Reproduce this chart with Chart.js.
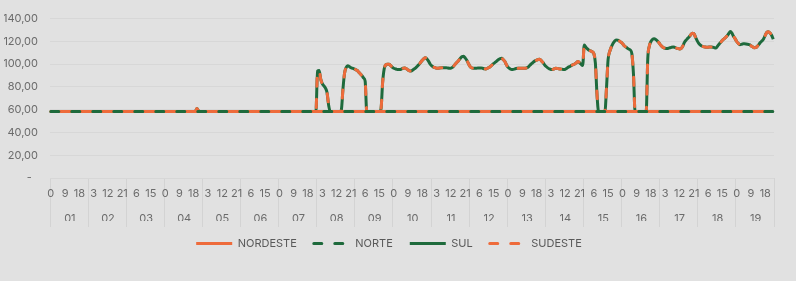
<!DOCTYPE html>
<html>
<head>
<meta charset="utf-8">
<script src="https://cdn.jsdelivr.net/npm/chart.js@4.4.1/dist/chart.umd.min.js"></script>
<style>
  html, body { margin: 0; padding: 0; background: #e1e1e1; }
  #wrap { width: 796px; height: 281px; }
</style>
</head>
<body>
<div id="wrap"><canvas id="chart" width="796" height="281"></canvas></div>
<script>
(function () {
  "use strict";

  // day groups and the hour of each point inside a day
  var days = ["01", "02", "03", "04", "05", "06", "07", "08", "09", "10",
              "11", "12", "13", "14", "15", "16", "17", "18", "19"];
  var hours = [0, 1, 2, 3, 4, 5, 6, 7, 8, 9, 10, 11, 12, 13, 14, 15, 16, 17, 18, 19, 20, 21, 22, 23];
  var yTicks = [0, 20, 40, 60, 80, 100, 120, 140];

  // hourly values, one line per day
  var norte = [
    58.3,58.3,58.3,58.3,58.3,58.3,58.3,58.3,58.3,58.3,58.3,58.3,58.3,58.3,58.3,58.3,58.3,58.3,58.3,58.3,58.3,58.3,58.3,58.3,
    58.3,58.3,58.3,58.3,58.3,58.3,58.3,58.3,58.3,58.3,58.3,58.3,58.3,58.3,58.3,58.3,58.3,58.3,58.3,58.3,58.3,58.3,58.3,58.3,
    58.3,58.3,58.3,58.3,58.3,58.3,58.3,58.3,58.3,58.3,58.3,58.3,58.3,58.3,58.3,58.3,58.3,58.3,58.3,58.3,58.3,58.3,58.3,58.3,
    58.3,58.3,58.3,58.3,58.3,58.3,58.3,58.3,58.3,58.3,58.3,58.3,58.3,58.3,58.3,58.3,58.3,58.3,58.3,58.3,58.3,58.3,58.3,58.3,
    58.3,58.3,58.3,58.3,58.3,58.3,58.3,58.3,58.3,58.3,58.3,58.3,58.3,58.3,58.3,58.3,58.3,58.3,58.3,58.3,58.3,58.3,58.3,58.3,
    58.3,58.3,58.3,58.3,58.3,58.3,58.3,58.3,58.3,58.3,58.3,58.3,58.3,58.3,58.3,58.3,58.3,58.3,58.3,58.3,58.3,58.3,58.3,58.3,
    58.3,58.3,58.3,58.3,58.3,58.3,58.3,58.3,58.3,58.3,58.3,58.3,58.3,58.3,58.3,58.3,58.3,58.3,58.3,58.3,58.3,58.3,58.3,58.3,
    58.3,58.3,58.3,58.3,58.3,58.3,58.3,58.3,58.3,58.3,58.3,58.3,58.3,58.3,58.3,58.3,58.3,58.3,58.3,58.3,58.3,58.3,58.3,58.3,
    58.3,58.3,58.3,58.3,58.3,58.3,58.3,58.3,58.3,58.3,58.3,58.3,58.3,58.3,58.3,58.3,58.3,58.3,58.3,58.3,58.3,58.3,58.3,58.3,
    58.3,58.3,58.3,58.3,58.3,58.3,58.3,58.3,58.3,58.3,58.3,58.3,58.3,58.3,58.3,58.3,58.3,58.3,58.3,58.3,58.3,58.3,58.3,58.3,
    58.3,58.3,58.3,58.3,58.3,58.3,58.3,58.3,58.3,58.3,58.3,58.3,58.3,58.3,58.3,58.3,58.3,58.3,58.3,58.3,58.3,58.3,58.3,58.3,
    58.3,58.3,58.3,58.3,58.3,58.3,58.3,58.3,58.3,58.3,58.3,58.3,58.3,58.3,58.3,58.3,58.3,58.3,58.3,58.3,58.3,58.3,58.3,58.3,
    58.3,58.3,58.3,58.3,58.3,58.3,58.3,58.3,58.3,58.3,58.3,58.3,58.3,58.3,58.3,58.3,58.3,58.3,58.3,58.3,58.3,58.3,58.3,58.3,
    58.3,58.3,58.3,58.3,58.3,58.3,58.3,58.3,58.3,58.3,58.3,58.3,58.3,58.3,58.3,58.3,58.3,58.3,58.3,58.3,58.3,58.3,58.3,58.3,
    58.3,58.3,58.3,58.3,58.3,58.3,58.3,58.3,58.3,58.3,58.3,58.3,58.3,58.3,58.3,58.3,58.3,58.3,58.3,58.3,58.3,58.3,58.3,58.3,
    58.3,58.3,58.3,58.3,58.3,58.3,58.3,58.3,58.3,58.3,58.3,58.3,58.3,58.3,58.3,58.3,58.3,58.3,58.3,58.3,58.3,58.3,58.3,58.3,
    58.3,58.3,58.3,58.3,58.3,58.3,58.3,58.3,58.3,58.3,58.3,58.3,58.3,58.3,58.3,58.3,58.3,58.3,58.3,58.3,58.3,58.3,58.3,58.3,
    58.3,58.3,58.3,58.3,58.3,58.3,58.3,58.3,58.3,58.3,58.3,58.3,58.3,58.3,58.3,58.3,58.3,58.3,58.3,58.3,58.3,58.3,58.3,58.3,
    58.3,58.3,58.3,58.3,58.3,58.3,58.3,58.3,58.3,58.3,58.3,58.3,58.3,58.3,58.3,58.3,58.3,58.3,58.3,58.3,58.3,58.3,58.3,58.3
  ];
  var nordeste = norte; // NE sat on the same floor price as N the whole period

  var sul = [
    58.3,58.3,58.3,58.3,58.3,58.3,58.3,58.3,58.3,58.3,58.3,58.3,58.3,58.3,58.3,58.3,58.3,58.3,58.3,58.3,58.3,58.3,58.3,58.3,
    58.3,58.3,58.3,58.3,58.3,58.3,58.3,58.3,58.3,58.3,58.3,58.3,58.3,58.3,58.3,58.3,58.3,58.3,58.3,58.3,58.3,58.3,58.3,58.3,
    58.3,58.3,58.3,58.3,58.3,58.3,58.3,58.3,58.3,58.3,58.3,58.3,58.3,58.3,58.3,58.3,58.3,58.3,58.3,58.3,58.3,58.3,58.3,58.3,
    58.3,58.3,58.3,58.3,58.3,58.3,58.3,58.3,58.3,58.3,58.3,58.3,58.3,58.3,58.3,58.3,58.3,58.3,58.3,58.3,61.1,59.0,58.3,58.3,
    58.3,58.3,58.3,58.3,58.3,58.3,58.3,58.3,58.3,58.3,58.3,58.3,58.3,58.3,58.3,58.3,58.3,58.3,58.3,58.3,58.3,58.3,58.3,58.3,
    58.3,58.3,58.3,58.3,58.3,58.3,58.3,58.3,58.3,58.3,58.3,58.3,58.3,58.3,58.3,58.3,58.3,58.3,58.3,58.3,58.3,58.3,58.3,58.3,
    58.3,58.3,58.3,58.3,58.3,58.3,58.3,58.3,58.3,58.3,58.3,58.3,58.3,58.3,58.3,58.3,58.3,58.3,58.3,58.3,58.3,58.3,58.3,58.3,
    93.9,94.4,86.9,82.9,80.9,78.9,74.9,63.9,58.3,58.3,58.3,58.3,58.3,58.3,58.3,59.9,77.9,91.9,96.9,98.6,97.9,96.9,96.4,95.9,
    95.2,94.4,92.9,91.4,89.9,87.9,84.9,58.3,58.3,58.3,58.3,58.3,58.3,58.3,58.3,58.3,60.9,83.9,95.9,99.4,99.9,99.9,98.9,97.4,
    96.4,95.9,95.4,95.2,95.2,95.9,96.4,96.7,95.9,94.9,94.1,93.9,94.9,95.9,96.9,98.4,99.9,101.7,103.4,104.9,105.7,104.4,102.4,99.9,
    98.4,97.4,96.9,96.4,96.4,96.6,96.9,96.9,96.9,96.9,96.6,96.4,96.4,97.2,98.7,100.4,101.9,103.5,105.2,106.7,106.9,105.4,103.5,100.7,
    98.1,96.9,96.4,96.4,96.4,96.6,96.7,96.7,96.4,95.9,95.8,96.4,97.1,98.1,99.4,100.6,101.7,102.9,104.1,104.9,105.1,103.9,102.3,99.4,
    97.2,96.2,95.4,95.2,95.7,96.2,96.4,96.4,96.4,96.4,96.4,96.4,96.9,97.9,99.4,100.6,101.9,102.9,103.5,104.1,104.3,102.9,101.4,99.4,
    97.9,96.7,95.9,95.4,95.4,95.9,96.4,96.2,95.9,95.8,95.6,95.2,95.4,96.4,97.4,97.9,98.9,99.6,100.1,101.2,102.3,101.4,99.9,98.9,
    116.9,114.9,113.4,112.2,111.6,110.9,109.4,100.9,73.9,58.3,58.3,58.3,58.3,58.3,78.9,103.9,110.9,114.9,117.9,119.9,121.3,121.1,120.4,119.4,
    118.2,116.4,115.2,114.2,113.2,112.4,108.9,90.9,58.3,58.3,58.3,58.3,58.3,58.3,58.3,58.3,104.9,115.9,119.9,121.7,122.2,121.7,120.4,118.9,
    116.9,115.4,114.4,113.9,113.7,113.9,114.4,114.9,115.1,114.7,114.1,113.7,113.4,113.7,115.7,118.9,120.9,122.4,123.9,125.7,127.2,126.9,123.9,120.9,
    118.4,116.9,115.9,115.4,115.1,114.9,114.9,115.1,115.1,114.9,114.4,114.2,115.9,117.7,119.2,120.9,122.2,123.4,124.9,126.9,128.6,127.2,124.4,122.4,
    119.9,118.2,117.1,117.4,117.9,117.9,117.7,117.4,117.1,116.2,115.2,114.4,114.5,115.7,117.4,119.2,120.6,122.4,125.4,127.9,128.4,127.4,125.4,121.9
  ];
  var sudeste = sul; // SE and S prices were identical

  var ORANGE = "#EE6B3B";
  var GREEN = "#1E6A3C";
  var TEXT = "#6b6b6b";

  var hourLabels = [];
  days.forEach(function () {
    hours.forEach(function (h) { hourLabels.push(String(h)); });
  });

  Chart.defaults.font.family = "Inter, 'Open Sans', sans-serif";
  Chart.defaults.font.size = 11;
  Chart.defaults.color = TEXT;

  function line(label, data, color, dashed) {
    return {
      label: label,
      data: data,
      borderColor: color,
      backgroundColor: color,
      borderWidth: 3,
      borderDash: dashed ? [8, 13] : [],
      borderCapStyle: dashed ? "round" : "butt",
      borderJoinStyle: "round",
      pointRadius: 0,
      pointHoverRadius: 0,
      tension: 0.4,
      cubicInterpolationMode: "monotone",
      fill: false,
      order: dashed ? 0 : 1 // dashed series drawn on top of the solid ones
    };
  }

  // legend line samples take dash/width from the dataset, not the point style
  function legendLabels(chart) {
    var items = Chart.defaults.plugins.legend.labels.generateLabels(chart);
    items.forEach(function (it) {
      var ds = chart.data.datasets[it.datasetIndex];
      it.lineDash = ds.borderDash;
      it.lineWidth = 3;
      it.strokeStyle = ds.borderColor;
      it.lineCap = ds.borderCapStyle;
      it.pointStyle = "line";
    });
    return items;
  }

  new Chart(document.getElementById("chart").getContext("2d"), {
    type: "line",
    data: {
      labels: hourLabels,
      datasets: [
        line("NORDESTE", nordeste, ORANGE, false),
        line("NORTE", norte, GREEN, true),
        line("SUL", sul, GREEN, false),
        line("SUDESTE", sudeste, ORANGE, true)
      ]
    },
    options: {
      responsive: false,
      devicePixelRatio: 1,
      animation: false,
      layout: { padding: { left: 4, right: 22, top: 13, bottom: 22 } },
      plugins: {
        tooltip: { enabled: false },
        legend: {
          position: "bottom",
          labels: {
            usePointStyle: true,
            pointStyle: "line",
            pointStyleWidth: 36,
            padding: 17,
            color: "#595959",
            font: { size: 11 },
            generateLabels: legendLabels,
            sort: function (a, b) { return a.datasetIndex - b.datasetIndex; }
          }
        }
      },
      scales: {
        x: {
          type: "category",
          offset: true,
          grid: { display: false, drawTicks: false },
          border: { display: false },
          ticks: {
            autoSkip: false,
            maxRotation: 0,
            minRotation: 0,
            padding: 3,
            color: TEXT,
            font: { size: 11, lineHeight: "25px" },
            callback: function (value, index) {
              var hour = index % 9 === 0 ? hourLabels[index] : "";
              var day = index % 24 === 12 ? days[Math.floor(index / 24)] : "";
              return day ? [hour, day] : hour;
            }
          },
          afterFit: function (s) { s.height = 43; }
        },
        days: {
          type: "category",
          labels: days,
          position: "bottom",
          weight: -1,
          offset: true,
          grid: {
            display: true,
            offset: true,
            drawOnChartArea: false,
            drawTicks: true,
            tickLength: 49,
            color: "#d3d3d3"
          },
          border: { display: false },
          ticks: { display: false },
          afterFit: function (s) { s.height = 0; }
        },
        y: {
          min: 0,
          max: 140,
          afterBuildTicks: function (s) {
            s.ticks = yTicks.map(function (v) { return { value: v }; });
          },
          grid: { color: "#d7d7d7", drawTicks: false },
          border: { display: false },
          ticks: {
            padding: 12,
            color: TEXT,
            font: { size: 11 },
            callback: function (v) {
              return v === 0 ? "-  " : v.toFixed(2).replace(".", ",");
            }
          },
          afterFit: function (s) { s.width = 46; }
        }
      }
    }
  });
})();
</script>
</body>
</html>
